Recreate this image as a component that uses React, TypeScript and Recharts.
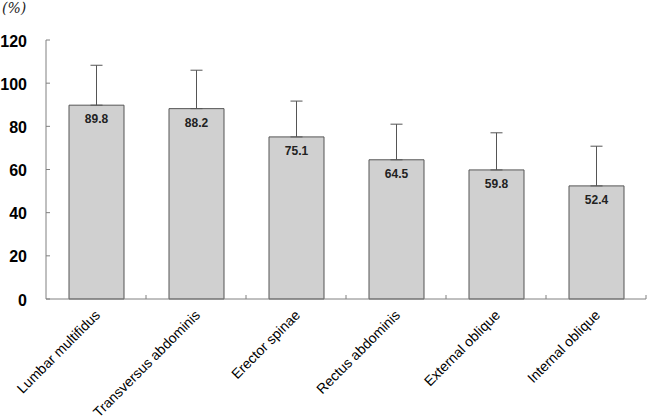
import { BarChart, Bar, XAxis, YAxis, ErrorBar, LabelList } from 'recharts'

const categories = [
  'Lumbar multifidus',
  'Transversus abdominis',
  'Erector spinae',
  'Rectus abdominis',
  'External oblique',
  'Internal oblique',
]
const means = [89.8, 88.2, 75.1, 64.5, 59.8, 52.4]
const sds = [18.5, 17.8, 16.6, 16.5, 17.2, 18.4]
const yTicks = [0, 20, 40, 60, 80, 100, 120]

const data = categories.map((name, i) => ({
  name,
  value: means[i],
  err: [0, sds[i]],
}))

const W = 648
const H = 416
const margin = { top: 40, right: 2, left: 0, bottom: 0 }
const yAxisWidth = 46
const band = (W - margin.left - margin.right - yAxisWidth) / categories.length

const YTick = (props: any) => {
  const { x, y, payload } = props
  return (
    <g>
      <line x1={x} y1={y} x2={x + 4} y2={y} stroke="#808080" />
      <text
        x={x - 19}
        y={y + 1}
        textAnchor="end"
        dominantBaseline="central"
        fontSize={16}
        fontWeight="bold"
        fontFamily="Arial, 'Liberation Sans', sans-serif"
        fill="#000"
      >
        {payload.value}
      </text>
    </g>
  )
}

const XTick = (props: any) => {
  const { x, y, payload } = props
  return (
    <g>
      <line x1={x + band / 2} y1={y} x2={x + band / 2} y2={y - 4} stroke="#808080" />
      <text
        transform={`translate(${x + 5},${y + 17}) rotate(-45)`}
        textAnchor="end"
        fontSize={14}
        fontFamily="Arial, 'Liberation Sans', sans-serif"
        fill="#000"
      >
        {payload.value}
      </text>
    </g>
  )
}

const ValueLabel = (props: any) => {
  const { x, y, width, value } = props
  return (
    <text
      x={x + width / 2}
      y={y + 14}
      textAnchor="middle"
      dominantBaseline="central"
      fontSize={12}
      fontWeight="bold"
      fontFamily="Arial, 'Liberation Sans', sans-serif"
      fill="#222"
    >
      {value}
    </text>
  )
}

export default function App() {
  return (
    <div style={{ position: 'absolute', left: 0, top: 0, width: W, height: H, background: '#fff' }}>
      <div
        style={{
          position: 'absolute',
          left: 2,
          top: 0,
          fontSize: 14,
          fontStyle: 'italic',
          fontFamily: "'DejaVu Serif', serif",
          color: '#222',
        }}
      >
        (%)
      </div>
      <BarChart width={W} height={H} data={data} margin={margin}>
        <XAxis
          dataKey="name"
          interval={0}
          height={117}
          tickSize={0}
          tickMargin={0}
          axisLine={{ stroke: '#808080' }}
          tickLine={false}
          tick={<XTick />}
        />
        <YAxis
          width={yAxisWidth}
          domain={[0, 120]}
          ticks={yTicks}
          interval={0}
          tickSize={0}
          tickMargin={0}
          axisLine={{ stroke: '#808080' }}
          tickLine={false}
          tick={<YTick />}
        />
        <Bar
          dataKey="value"
          barSize={55}
          fill="#d0d0d0"
          stroke="#555"
          strokeWidth={1}
          isAnimationActive={false}
        >
          <ErrorBar dataKey="err" direction="y" width={6} stroke="#555" strokeWidth={1} />
          <LabelList dataKey="value" content={<ValueLabel />} />
        </Bar>
      </BarChart>
    </div>
  )
}
